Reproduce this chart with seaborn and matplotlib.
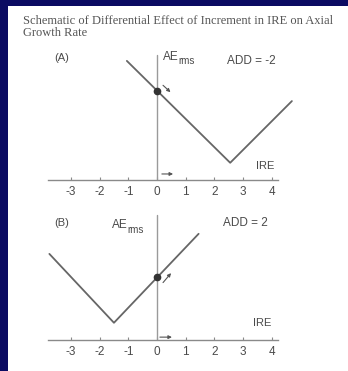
import matplotlib
matplotlib.use("Agg")
import matplotlib.pyplot as plt
from matplotlib.patches import Rectangle
import seaborn as sns
import pandas as pd

sns.set_theme(style="white")
plt.rcParams["font.family"] = ["Liberation Sans", "DejaVu Sans"]

# Schematic V-shaped response curves (IRE vs AE_rms)
ire_a = [-1.05, 2.55, 4.7]
ae_a = [4.15, 0.6, 2.75]
ire_b = [-3.75, -1.5, 1.45]
ae_b = [3.0, 0.6, 3.7]

# Operating point at IRE = 0 on each curve
dot_a = (0.0, 3.11)
dot_b = (0.0, 2.18)

ticks = [-3, -2, -1, 0, 1, 2, 3, 4]
tick_labels = ["-3", "-2", "-1", "0", "1", "2", "3", "4"]

panels = [
    dict(tag="(A)", add="ADD = -2", ire=ire_a, ae=ae_a, dot=dot_a,
         bottom=1 - 180 / 371, tag_xy=(-3.31, 4.25), ae_xy=(0.21, 4.3),
         add_xy=(2.44, 4.15), ire_xy=(3.45, 0.49),
         darrow=((0.21, 3.30), (0.47, 3.06)), harrow=((0.17, 0.21), (0.56, 0.21))),
    dict(tag="(B)", add="ADD = 2", ire=ire_b, ae=ae_b, dot=dot_b,
         bottom=1 - 340 / 371, tag_xy=(-3.31, 4.08), ae_xy=(-1.57, 4.0),
         add_xy=(2.3, 4.08), ire_xy=(3.35, 0.59),
         darrow=((0.21, 2.00), (0.49, 2.33)), harrow=((0.1, 0.1), (0.52, 0.1))),
]

W, H = 348, 371
fig = plt.figure(figsize=(W / 100, H / 100), dpi=100)
fig.patch.set_facecolor("#0b0b62")
fig.add_artist(Rectangle((8 / W, 0), 1 - 8 / W, 1 - 6 / H, transform=fig.transFigure,
                         facecolor="white", edgecolor="none", zorder=0))

fig.text(23 / W, 1 - 21 / H,
         "Schematic of Differential Effect of Increment in IRE on Axial",
         family="Liberation Serif", fontsize=9.0, color="#555555", va="center", ha="left")
fig.text(23 / W, 1 - 33 / H, "Growth Rate",
         family="Liberation Serif", fontsize=9.0, color="#555555", va="center", ha="left")

unit = 28.7
x0 = 157.0
xlim = (-4.5, 5.5)
ylim = (0, 4.5)
line_col = "#666666"
text_col = "#4a4a4a"

for p in panels:
    left = (x0 + xlim[0] * unit) / W
    width = (xlim[1] - xlim[0]) * unit / W
    height = (ylim[1] - ylim[0]) * unit / H
    ax = fig.add_axes([left, p["bottom"], width, height])
    ax.set_facecolor("none")
    ax.set_xlim(*xlim)
    ax.set_ylim(*ylim)

    df = pd.DataFrame({"IRE": p["ire"], "AE": p["ae"]})
    sns.lineplot(data=df, x="IRE", y="AE", sort=False, color=line_col,
                 linewidth=1.3, ax=ax)
    ax.plot([0, 0], [0, 4.35], color="#9a9a9a", lw=1.0)
    ax.plot([p["dot"][0]], [p["dot"][1]], marker="o", ms=4.5, color="#333333",
            zorder=5)

    for (s, e) in (p["darrow"], p["harrow"]):
        ax.annotate("", xy=e, xytext=s,
                    arrowprops=dict(arrowstyle="-|>", color="#555555", lw=0.8,
                                    mutation_scale=5, shrinkA=0, shrinkB=0))

    for side in ("top", "right", "left"):
        ax.spines[side].set_visible(False)
    ax.spines["bottom"].set_bounds(-3.8, 4.2)
    ax.spines["bottom"].set_color("#8a8a8a")
    ax.spines["bottom"].set_linewidth(1.0)
    ax.set_xticks(ticks)
    ax.set_xticklabels(tick_labels)
    ax.set_yticks([])
    ax.tick_params(axis="x", direction="in", length=2, width=0.8, color="#8a8a8a",
                   pad=4, labelsize=8.5, labelcolor=text_col, bottom=True)
    ax.set_xlabel("")
    ax.set_ylabel("")

    ax.text(*p["tag_xy"], p["tag"], fontsize=8, color=text_col, ha="center", va="center")
    ae_txt = ax.text(*p["ae_xy"], "AE", fontsize=8.5, color=text_col,
                     ha="left", va="center")
    ax.annotate("rms", xy=(0.97, 0.12), xycoords=ae_txt, fontsize=7,
                color=text_col, ha="left", va="center")
    ax.text(*p["add_xy"], p["add"], fontsize=8.5, color=text_col, ha="left", va="center")
    ax.text(*p["ire_xy"], "IRE", fontsize=8, color=text_col, ha="left", va="center")

fig.savefig("out.png", dpi=100)
